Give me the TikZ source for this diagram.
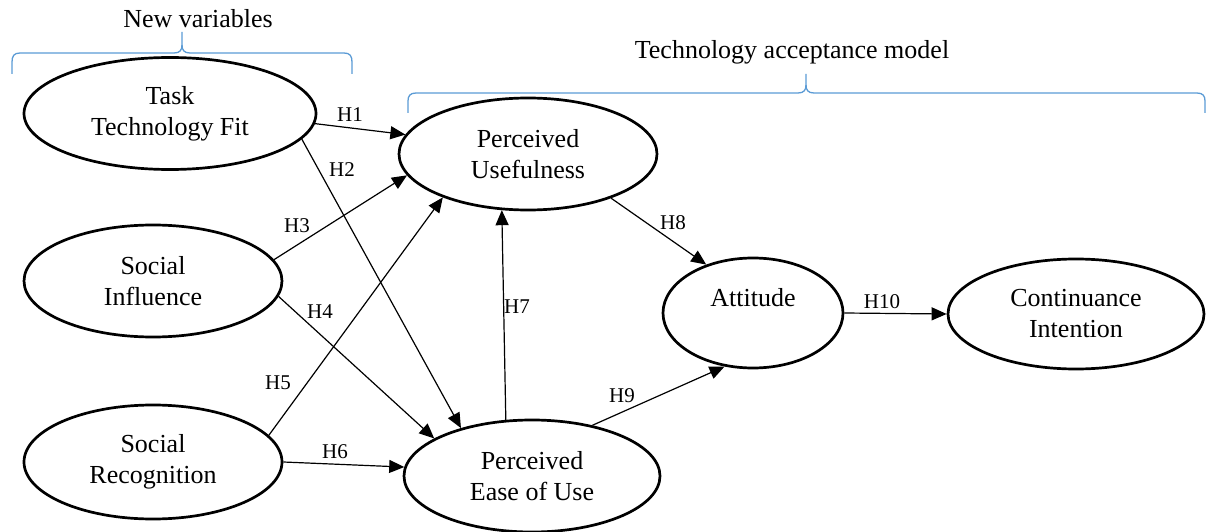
\documentclass[tikz,border=0pt]{standalone}
\usepackage{fontspec}
\setmainfont{Liberation Serif}
\usetikzlibrary{shapes.geometric,arrows.meta}
\definecolor{bracecol}{RGB}{91,155,213}
\tikzset{
  construct/.style={ellipse, draw, line width=2.7pt, inner sep=0pt, align=center,
    font=\fontsize{26}{31}\selectfont},
  conn/.style={-{Triangle[length=15pt,width=13pt]}, line width=1.2pt},
  hyp/.style={font=\fontsize{21}{24}\selectfont, inner sep=0pt},
  grouptitle/.style={font=\fontsize{26}{31}\selectfont, inner sep=0pt},
  bracket/.style={draw=bracecol, line width=1.3pt, line join=round}
}
\begin{document}
\begin{tikzpicture}[x=1pt,y=-1pt]
\useasboundingbox (0,0) rectangle (1208,532);

% constructs
\node[construct, minimum width=292, minimum height=112] (ttf)  at (170,113.5) {Task\\Technology Fit};
\node[construct, minimum width=258, minimum height=112] (si)   at (153,281)   {Social\\Influence};
\node[construct, minimum width=258, minimum height=114] (sr)   at (153,462)   {Social\\Recognition};
\node[construct, minimum width=258, minimum height=112] (pu)   at (528,154)   {Perceived\\Usefulness};
\node[construct, minimum width=256, minimum height=112] (peou) at (532,476)   {Perceived\\Ease of Use};
\node[construct, minimum width=180, minimum height=110] (att)  at (753,313)   {Attitude\\~};
\node[construct, minimum width=256, minimum height=110] (ci)   at (1076,314)  {Continuance\\Intention};

% group brackets
\draw[bracket] (12,74) -- (12,62) .. controls (12,56) and (14,53) .. (20,53) -- (174,53)
  .. controls (180,53) and (182,50) .. (182,45) -- (182,32);
\draw[bracket] (182,45) .. controls (182,50) and (184,53) .. (190,53) -- (344,53)
  .. controls (350,53) and (352,56) .. (352,62) -- (352,74);
\draw[bracket] (408,113) -- (408,101) .. controls (408,96) and (410,93) .. (416,93) -- (798,93)
  .. controls (804,93) and (806,90) .. (806,85) -- (806,74);
\draw[bracket] (806,85) .. controls (806,90) and (808,93) .. (814,93) -- (1197,93)
  .. controls (1203,93) and (1205,96) .. (1205,101) -- (1205,113);

\node[grouptitle] (nv)  at (198,19) {New variables};
\node[grouptitle] (tam) at (792,52) {Technology acceptance model};

% hypotheses
\draw[conn] (ttf.-4)  -- (pu.171);
\draw[conn] (ttf.-11) -- (peou.146);
\draw[conn] (si.10)   -- (pu.190);
\draw[conn] (si.-7)   -- (peou.159);
\draw[conn] (sr.13)   -- (pu.207);
\draw[conn] (sr.0)    -- (peou.176);
\draw[conn] (peou.115) -- (pu.245);
\draw[conn] (pu.-28)  -- (att.134);
\draw[conn] (peou.40) -- (att.242);
\draw[conn] (att.0)   -- (ci.180);

\node[hyp] (h1)  at (350,115) {H1};
\node[hyp] (h2)  at (342,170) {H2};
\node[hyp] (h3)  at (297,226) {H3};
\node[hyp] (h4)  at (320,312) {H4};
\node[hyp] (h5)  at (278,383) {H5};
\node[hyp] (h6)  at (335,452) {H6};
\node[hyp] (h7)  at (517,307) {H7};
\node[hyp] (h8)  at (673,223) {H8};
\node[hyp] (h9)  at (622,396) {H9};
\node[hyp] (h10) at (882,302) {H10};
\end{tikzpicture}
\end{document}
